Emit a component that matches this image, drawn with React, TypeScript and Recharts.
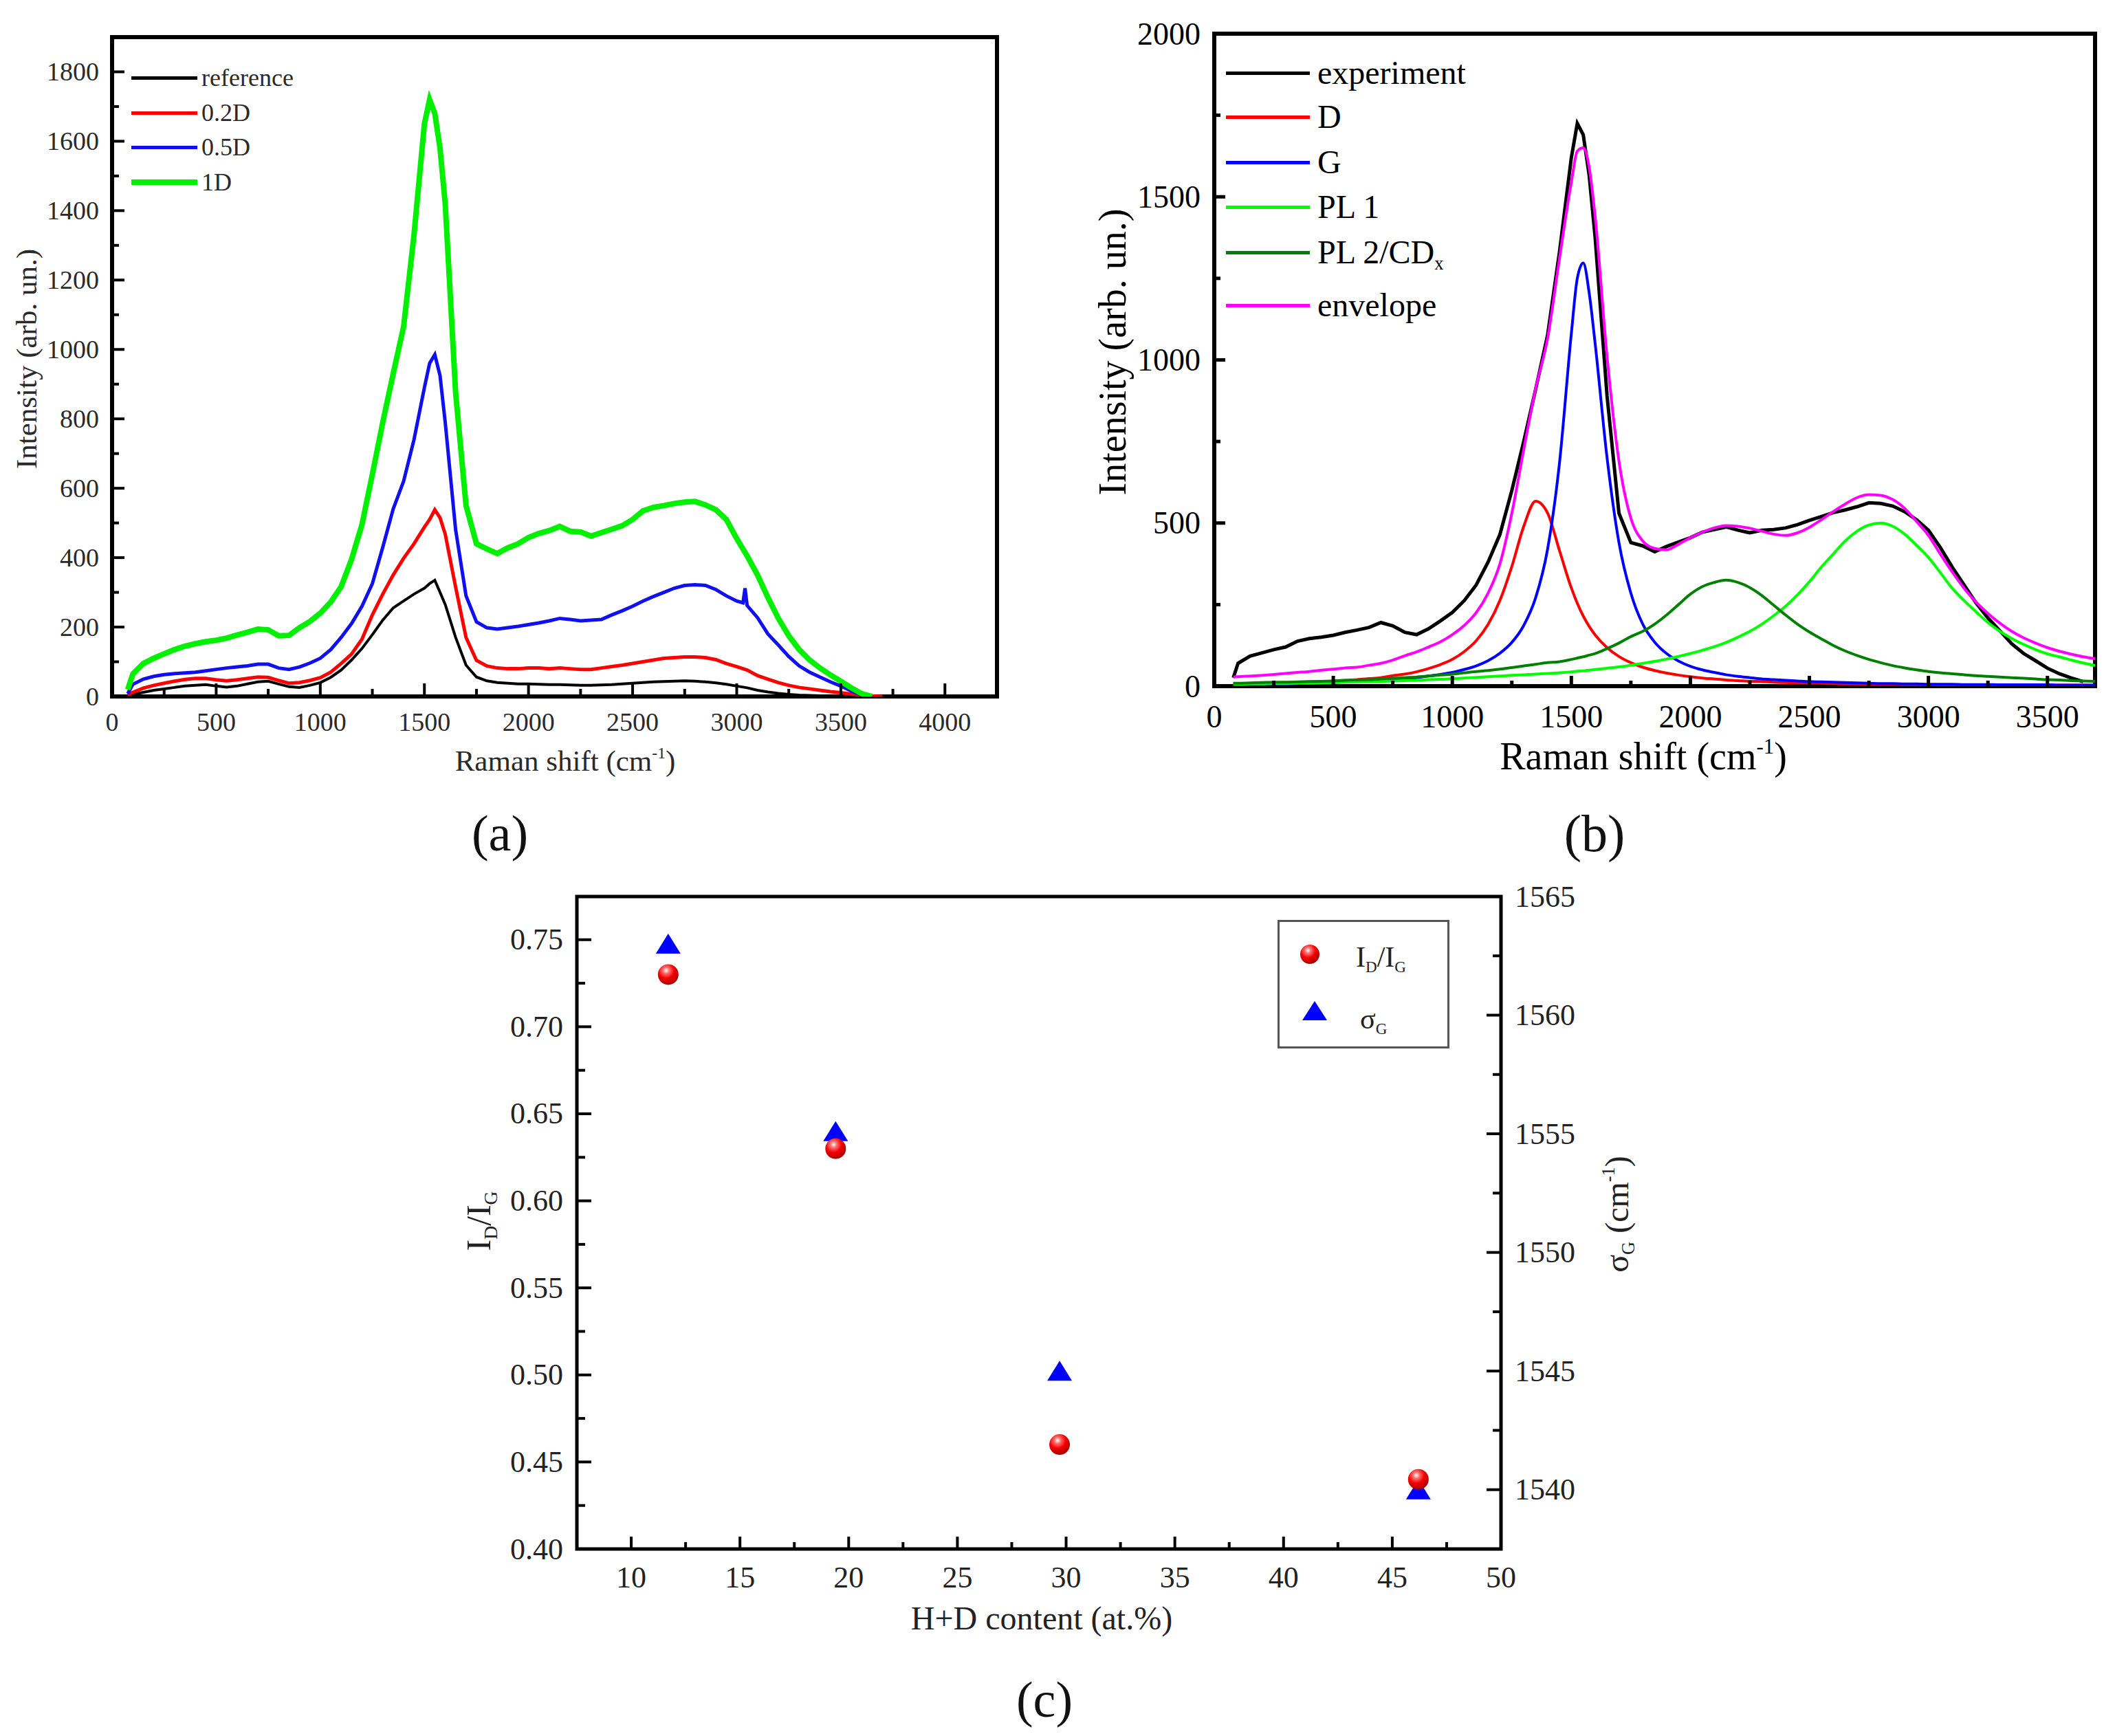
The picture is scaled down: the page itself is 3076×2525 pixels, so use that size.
import React from 'react';
import { LineChart, ComposedChart, Line, XAxis, YAxis, ReferenceArea } from 'recharts';

const FONT = "'Liberation Serif', 'DejaVu Serif', 'Times New Roman', serif";

// ---------- panel (a): Raman spectra ----------
const shiftA = [
  75, 100, 150, 200, 250, 300, 350, 400, 450, 500,
  550, 600, 650, 700, 750, 800, 850, 900, 950, 1000,
  1050, 1100, 1150, 1200, 1250, 1300, 1350, 1400, 1450, 1500,
  1525, 1550, 1575, 1600, 1650, 1700, 1750, 1800, 1850, 1900,
  1950, 2000, 2050, 2100, 2150, 2200, 2250, 2300, 2350, 2400,
  2450, 2500, 2550, 2600, 2650, 2700, 2750, 2800, 2850, 2900,
  2950, 3000, 3030, 3040, 3050, 3100, 3150, 3200, 3250, 3300,
  3350, 3400, 3450, 3500, 3550, 3600, 3650, 3700,
];
const refA = [
  2, 6, 12, 18, 22, 26, 30, 32, 34, 30,
  27, 30, 36, 42, 44, 36, 28, 26, 32, 40,
  55, 76, 105, 138, 178, 220, 255, 275, 295, 312,
  325, 335, 300, 265, 170, 90, 56, 45, 40, 38,
  36, 36, 35, 34, 34, 33, 32, 32, 33, 34,
  36, 38, 40, 42, 43, 44, 45, 44, 42, 39,
  35, 30, 27, 26, 25, 18, 13, 9, 6, 4,
  3, 2, 1, 0, null, null, null, null,
];
const d02A = [
  5, 12, 24, 32, 38, 44, 49, 52, 52, 48,
  45, 48, 52, 56, 55, 46, 38, 40, 46, 54,
  70, 95, 122, 165, 235, 295, 350, 398, 440, 488,
  510, 538, 515, 468, 315, 170, 104, 88, 82, 80,
  80, 82, 82, 80, 82, 80, 78, 78, 82, 86,
  90, 95, 100, 105, 110, 112, 114, 114, 112, 106,
  95, 86, 80, 78, 76, 60, 50, 40, 32, 26,
  22, 18, 14, 11, 7, 4, 1, 0,
];
const d05A = [
  8, 35, 50, 58, 63, 66, 68, 70, 74, 78,
  82, 85, 88, 93, 93, 82, 78, 85, 96, 110,
  135, 170, 210, 260, 325, 430, 540, 620, 740, 890,
  960, 985, 925, 790, 480, 290, 215, 198, 194, 198,
  202, 207, 212, 218, 225, 222, 218, 220, 222, 235,
  247, 260, 275, 288, 300, 312, 320, 322, 320, 308,
  290, 275, 270, 312, 262, 227, 180, 148, 115, 88,
  70, 56, 42, 30, 16, 4, null, null,
];
const d1A = [
  20, 65, 95, 110, 123, 135, 145, 152, 158, 162,
  168, 177, 185, 194, 192, 175, 176, 198, 216, 240,
  272, 316, 395, 495, 640, 790, 930, 1065, 1330, 1650,
  1720, 1680, 1580, 1420, 875, 550, 440, 425, 412, 428,
  440, 458, 470, 478, 490, 476, 474, 462, 472, 482,
  492, 510, 535, 545, 550, 556, 560, 562, 552, 538,
  510, 455, 425, 415, 405, 350, 285, 225, 175, 135,
  105, 82, 62, 44, 25, 8, 0, null,
];
const ticksAX = [0, 250, 500, 750, 1000, 1250, 1500, 1750, 2000, 2250, 2500, 2750, 3000, 3250, 3500, 3750, 4000];
const ticksAY = [0, 100, 200, 300, 400, 500, 600, 700, 800, 900, 1000, 1100, 1200, 1300, 1400, 1500, 1600, 1700, 1800];
const legendA = ['reference', '0.2D', '0.5D', '1D'];

// ---------- panel (b): fit of the 1D spectrum ----------
const shiftB = [
  80, 100, 150, 200, 250, 300, 350, 400, 450, 500,
  550, 600, 650, 700, 750, 800, 850, 900, 950, 1000,
  1050, 1100, 1150, 1200, 1250, 1300, 1350, 1400, 1450, 1500,
  1525, 1550, 1575, 1600, 1650, 1700, 1750, 1800, 1850, 1900,
  1950, 2000, 2050, 2100, 2150, 2200, 2250, 2300, 2350, 2400,
  2450, 2500, 2550, 2600, 2650, 2700, 2750, 2800, 2850, 2900,
  2950, 3000, 3050, 3100, 3150, 3200, 3250, 3300, 3350, 3400,
  3450, 3500, 3550, 3600, 3650, 3700,
];
const expB = [
  26, 70, 92, 102, 112, 120, 138, 146, 150, 156,
  165, 172, 180, 195, 185, 165, 158, 176, 200, 226,
  262, 310, 380, 465, 600, 750, 910, 1075, 1330, 1620,
  1725, 1690, 1565, 1375, 890, 530, 440, 430, 412, 428,
  442, 455, 472, 480, 488, 478, 470, 478, 480, 485,
  495, 508, 520, 532, 540, 550, 562, 560, 552, 535,
  510, 478, 425, 365, 310, 255, 209, 170, 130, 100,
  78, 55, 38, 25, 14, null,
];
const dB = [
  8, 8, 8, 9, 10, 11, 12, 13, 14, 16,
  18, 20, 23, 26, 32, 37, 44, 54, 66, 82,
  106, 139, 189, 263, 367, 490, 567, 531, 416, 301,
  254, 215, 183, 157, 118, 91, 72, 58, 48, 40,
  34, 29, 25, 22, 19, 17, 15, 14, 12, 11,
  10, 10, 9, 8, 7, 7, 6, 6, 6, 5,
  5, 5, 4, 4, 4, 4, 4, 3, 3, 3,
  3, 3, 3, 3, 3, 2,
];
const gB = [
  5, 5, 6, 6, 7, 7, 8, 9, 10, 11,
  13, 14, 16, 18, 20, 23, 26, 31, 36, 42,
  51, 62, 78, 101, 134, 186, 271, 419, 683, 1081,
  1250, 1297, 1205, 1050, 700, 440, 285, 190, 135, 100,
  77, 61, 50, 42, 35, 30, 26, 22, 20, 18,
  16, 14, 13, 12, 11, 10, 9, 8, 8, 7,
  7, 6, 6, 6, 5, 5, 5, 4, 4, 4,
  4, 4, 3, 3, 3, 3,
];
const pl1B = [
  6, 6, 7, 7, 8, 8, 9, 9, 10, 11,
  12, 13, 14, 15, 16, 17, 18, 20, 21, 23,
  25, 27, 29, 31, 33, 35, 37, 39, 41, 44,
  46, 47, 49, 51, 55, 59, 64, 70, 76, 83,
  91, 100, 110, 121, 134, 150, 168, 190, 216, 245,
  280, 320, 365, 405, 445, 475, 494, 500, 490, 466,
  432, 395, 348, 300, 262, 228, 195, 168, 146, 128,
  112, 99, 90, 80, 71, 63,
];
const pl2B = [
  9, 9, 10, 11, 12, 12, 13, 14, 15, 16,
  18, 19, 20, 22, 24, 26, 28, 31, 34, 37,
  41, 45, 48, 52, 57, 62, 67, 72, 75, 82,
  86, 90, 95, 100, 115, 132, 152, 168, 190, 218,
  250, 282, 305, 318, 325, 318, 302, 278, 248, 218,
  190, 166, 145, 125, 108, 94, 82, 72, 63, 56,
  50, 45, 41, 38, 35, 32, 30, 28, 26, 24,
  22, 20, 19, 17, 16, 15,
];
const envB = [
  28, 29, 31, 33, 36, 39, 42, 45, 49, 52,
  56, 58, 64, 70, 80, 93, 105, 120, 136, 158,
  186, 225, 285, 375, 530, 725, 912, 1065, 1310, 1545,
  1640, 1650, 1590, 1440, 1010, 690, 515, 445, 422, 418,
  435, 455, 472, 485, 492, 490, 484, 475, 466, 462,
  470, 487, 510, 535, 558, 578, 587, 585, 572, 545,
  505, 462, 405, 350, 300, 258, 223, 193, 168, 148,
  132, 118, 107, 98, 90, 84,
];
const ticksBX = [0, 250, 500, 750, 1000, 1250, 1500, 1750, 2000, 2250, 2500, 2750, 3000, 3250, 3500];
const ticksBY = [0, 250, 500, 750, 1000, 1250, 1500, 1750, 2000];

// ---------- panel (c): ID/IG and G position vs H+D content ----------
const hdContent = [11.7, 19.4, 29.7, 46.2];
const idIg = [0.73, 0.63, 0.46, 0.44];
const sigmaG = [1563.0, 1555.1, 1545.0, 1540.0];
const ticksCX = [10, 12.5, 15, 17.5, 20, 22.5, 25, 27.5, 30, 32.5, 35, 37.5, 40, 42.5, 45, 47.5, 50];
const ticksCL = [0.4, 0.425, 0.45, 0.475, 0.5, 0.525, 0.55, 0.575, 0.6, 0.625, 0.65, 0.675, 0.7, 0.725, 0.75];
const ticksCR = [1540, 1542.5, 1545, 1547.5, 1550, 1552.5, 1555, 1557.5, 1560, 1562.5, 1565];

const tableA = shiftA.map((x, i) => ({ x, ref: refA[i], d02: d02A[i], d05: d05A[i], d1: d1A[i] }));
const tableB = shiftB.map((x, i) => ({
  x, exp: expB[i], d: dB[i], g: gB[i], pl1: pl1B[i], pl2: pl2B[i], env: envB[i],
}));
const tableC = hdContent.map((hd, i) => ({ hd, ratio: idIg[i], sigma: sigmaG[i] }));

// inward tick marks, labels outside
interface TickStyle {
  side: 'left' | 'right' | 'bottom';
  step: number;
  major: number;
  minor: number;
  gap: number;
  size: number;
  digits: number;
  color: string;
  weight: number;
}

const makeTick = (s: TickStyle) => (props: any) => {
  const { x, y, payload } = props;
  const v = Number(payload.value);
  const isMajor = Math.abs(Math.round(v / s.step) * s.step - v) < 1e-6;
  const len = isMajor ? s.major : s.minor;
  const text = isMajor ? v.toFixed(s.digits) : null;
  const txt = { style: { fontFamily: FONT, fontSize: s.size }, fill: s.color };
  if (s.side === 'bottom') {
    return (
      <g>
        <line x1={x} x2={x} y1={y} y2={y - len} stroke="#000" strokeWidth={s.weight} />
        {text && (
          <text x={x} y={y + s.gap} textAnchor="middle" dominantBaseline="central" {...txt}>{text}</text>
        )}
      </g>
    );
  }
  if (s.side === 'left') {
    return (
      <g>
        <line x1={x} x2={x + len} y1={y} y2={y} stroke="#000" strokeWidth={s.weight} />
        {text && (
          <text x={x - s.gap} y={y} textAnchor="end" dominantBaseline="central" {...txt}>{text}</text>
        )}
      </g>
    );
  }
  return (
    <g>
      <line x1={x} x2={x - len} y1={y} y2={y} stroke="#000" strokeWidth={s.weight} />
      {text && (
        <text x={x + s.gap} y={y} textAnchor="start" dominantBaseline="central" {...txt}>{text}</text>
      )}
    </g>
  );
};

// text overlays
const Txt = ({ x, y, size, rot, left, color = '#111', children }: any) => (
  <div
    style={{
      position: 'absolute',
      left: x,
      top: y,
      transform: `translate(${left ? '0' : '-50%'}, -50%)${rot ? ' rotate(-90deg)' : ''}`,
      fontFamily: FONT,
      fontSize: size,
      lineHeight: 1,
      whiteSpace: 'nowrap',
      color,
    }}
  >
    {children}
  </div>
);

const Sup = ({ children }: any) => (
  <span style={{ fontSize: '0.55em', position: 'relative', top: '-0.75em' }}>{children}</span>
);
const Sub = ({ children }: any) => (
  <span style={{ fontSize: '0.55em', position: 'relative', top: '0.35em' }}>{children}</span>
);

const LegendLine = ({ x1, x2, y, color, w }: any) => (
  <div style={{ position: 'absolute', left: x1, top: y - w / 2, width: x2 - x1, height: w, background: color }} />
);

const Sphere = (props: any) => {
  const { cx, cy, index } = props;
  if (cx == null || cy == null) return null;
  const id = `sph-${index}`;
  return (
    <g key={id}>
      <defs>
        <radialGradient id={id} cx="0.4" cy="0.3" r="0.7">
          <stop offset="0" stopColor="#ffffff" />
          <stop offset="0.22" stopColor="#ff7070" />
          <stop offset="0.55" stopColor="#f40000" />
          <stop offset="1" stopColor="#a80000" />
        </radialGradient>
      </defs>
      <circle cx={cx} cy={cy} r={15} fill={`url(#${id})`} />
    </g>
  );
};

const Tri = (props: any) => {
  const { cx, cy, index } = props;
  if (cx == null || cy == null) return null;
  return (
    <polygon
      key={`tri-${index}`}
      points={`${cx},${cy - 15} ${cx - 18},${cy + 14} ${cx + 18},${cy + 14}`}
      fill="#0000ff"
    />
  );
};

const PanelA = () => (
  <div style={{ position: 'absolute', left: 0, top: 0 }}>
    <LineChart width={1480} height={1150} data={tableA} margin={{ top: 54, right: 30, bottom: 0, left: 0 }}>
      <XAxis
        dataKey="x"
        type="number"
        domain={[0, 4250]}
        allowDataOverflow
        ticks={ticksAX}
        interval={0}
        height={137}
        axisLine={false}
        tickLine={false}
        tickSize={0}
        tickMargin={0}
        tick={makeTick({ side: 'bottom', step: 500, major: 19, minor: 11, gap: 37, size: 38, digits: 0, color: '#2a2a2a', weight: 4 })}
      />
      <YAxis
        type="number"
        domain={[0, 1900]}
        allowDataOverflow
        ticks={ticksAY}
        interval={0}
        width={163}
        axisLine={false}
        tickLine={false}
        tickSize={0}
        tickMargin={0}
        tick={makeTick({ side: 'left', step: 200, major: 18, minor: 10, gap: 19, size: 38, digits: 0, color: '#2a2a2a', weight: 4 })}
      />
      <Line dataKey="ref" stroke="#000000" strokeWidth={4} dot={false} type="linear" isAnimationActive={false} />
      <Line dataKey="d02" stroke="#ff0000" strokeWidth={5} dot={false} type="linear" isAnimationActive={false} />
      <Line dataKey="d05" stroke="#1010ee" strokeWidth={5} dot={false} type="linear" isAnimationActive={false} />
      <Line dataKey="d1" stroke="#00f000" strokeWidth={8} dot={false} type="linear" isAnimationActive={false} />
      <ReferenceArea x1={0} x2={4250} y1={0} y2={1900} fill="none" stroke="#000" strokeWidth={6} ifOverflow="visible" />
    </LineChart>
  </div>
);

const PanelB = () => (
  <div style={{ position: 'absolute', left: 1540, top: 0 }}>
    <LineChart width={1536} height={1150} data={tableB} margin={{ top: 49, right: 29, bottom: 0, left: 0 }}>
      <XAxis
        dataKey="x"
        type="number"
        domain={[0, 3700]}
        allowDataOverflow
        ticks={ticksBX}
        interval={0}
        height={152}
        axisLine={false}
        tickLine={false}
        tickSize={0}
        tickMargin={0}
        tick={makeTick({ side: 'bottom', step: 500, major: 15, minor: 8, gap: 44, size: 46, digits: 0, color: '#000', weight: 5 })}
      />
      <YAxis
        type="number"
        domain={[0, 2000]}
        allowDataOverflow
        ticks={ticksBY}
        interval={0}
        width={226}
        axisLine={false}
        tickLine={false}
        tickSize={0}
        tickMargin={0}
        tick={makeTick({ side: 'left', step: 500, major: 16, minor: 9, gap: 20, size: 46, digits: 0, color: '#000', weight: 5 })}
      />
      <Line dataKey="exp" stroke="#000000" strokeWidth={5} dot={false} type="linear" isAnimationActive={false} />
      <Line dataKey="d" stroke="#ff0000" strokeWidth={4} dot={false} type="monotone" isAnimationActive={false} />
      <Line dataKey="g" stroke="#0000ff" strokeWidth={4} dot={false} type="monotone" isAnimationActive={false} />
      <Line dataKey="pl1" stroke="#00ff00" strokeWidth={4} dot={false} type="monotone" isAnimationActive={false} />
      <Line dataKey="pl2" stroke="#008000" strokeWidth={4} dot={false} type="monotone" isAnimationActive={false} />
      <Line dataKey="env" stroke="#ff00ff" strokeWidth={4} dot={false} type="monotone" isAnimationActive={false} />
      <ReferenceArea x1={0} x2={3700} y1={0} y2={2000} fill="none" stroke="#000" strokeWidth={6} ifOverflow="visible" />
    </LineChart>
  </div>
);

const PanelC = () => (
  <div style={{ position: 'absolute', left: 700, top: 1250 }}>
    <ComposedChart width={1700} height={1150} data={tableC} margin={{ top: 54, right: 0, bottom: 0, left: 0 }}>
      <XAxis
        dataKey="hd"
        type="number"
        domain={[7.5, 50]}
        allowDataOverflow
        ticks={ticksCX}
        interval={0}
        height={147}
        axisLine={false}
        tickLine={false}
        tickSize={0}
        tickMargin={0}
        tick={makeTick({ side: 'bottom', step: 5, major: 18, minor: 10, gap: 41, size: 44, digits: 0, color: '#222', weight: 4 })}
      />
      <YAxis
        yAxisId="left"
        type="number"
        domain={[0.4, 0.7748]}
        allowDataOverflow
        ticks={ticksCL}
        interval={0}
        width={139}
        axisLine={false}
        tickLine={false}
        tickSize={0}
        tickMargin={0}
        tick={makeTick({ side: 'left', step: 0.05, major: 21, minor: 12, gap: 20, size: 44, digits: 2, color: '#222', weight: 4 })}
      />
      <YAxis
        yAxisId="right"
        orientation="right"
        type="number"
        domain={[1537.5, 1565]}
        allowDataOverflow
        ticks={ticksCR}
        interval={0}
        width={217}
        axisLine={false}
        tickLine={false}
        tickSize={0}
        tickMargin={0}
        tick={makeTick({ side: 'right', step: 5, major: 21, minor: 12, gap: 20, size: 44, digits: 0, color: '#222', weight: 4 })}
      />
      <Line yAxisId="right" dataKey="sigma" stroke="none" dot={Tri} activeDot={false} isAnimationActive={false} />
      <Line yAxisId="left" dataKey="ratio" stroke="none" dot={Sphere} activeDot={false} isAnimationActive={false} />
      <ReferenceArea yAxisId="left" x1={7.5} x2={50} y1={0.4} y2={0.7748} fill="none" stroke="#000" strokeWidth={5} ifOverflow="visible" />
    </ComposedChart>
  </div>
);

const legendColorsA = ['#000000', '#ff0000', '#1010ee', '#00f000'];
const legendRowsA = [113, 164, 214, 265];
const legendColorsB = ['#000000', '#ff0000', '#0000ff', '#00ff00', '#008000', '#ff00ff'];
const legendRowsB = [106, 170, 236, 301, 367, 444];

export default function App() {
  return (
    <div style={{ position: 'absolute', left: 0, top: 0, width: 3076, height: 2525, background: '#fff', overflow: 'hidden' }}>
      <PanelA />
      <PanelB />
      <PanelC />

      {/* panel (a) texts */}
      {legendA.map((name, i) => (
        <React.Fragment key={name}>
          <LegendLine x1={191} x2={287} y={legendRowsA[i]} color={legendColorsA[i]} w={i === 3 ? 8 : 5} />
          <Txt x={293} y={legendRowsA[i]} size={36} left color="#2a2a2a">{name}</Txt>
        </React.Fragment>
      ))}
      <Txt x={38} y={522} size={43} rot color="#2a2a2a">Intensity (arb. un.)</Txt>
      <Txt x={822} y={1106} size={43} color="#2a2a2a">Raman shift (cm<Sup>-1</Sup>)</Txt>
      <Txt x={727} y={1212} size={74}>(a)</Txt>

      {/* panel (b) texts */}
      {['experiment', 'D', 'G', 'PL 1', null, 'envelope'].map((name, i) => (
        <React.Fragment key={i}>
          <LegendLine x1={1783} x2={1905} y={legendRowsB[i]} color={legendColorsB[i]} w={5} />
          <Txt x={1916} y={legendRowsB[i]} size={48} left color="#000">
            {name ?? <>PL 2/CD<Sub>x</Sub></>}
          </Txt>
        </React.Fragment>
      ))}
      <Txt x={1618} y={512} size={56} rot color="#000">Intensity (arb. un.)</Txt>
      <Txt x={2390} y={1100} size={56} color="#000">Raman shift (cm<Sup>-1</Sup>)</Txt>
      <Txt x={2319} y={1212} size={76}>(b)</Txt>

      {/* panel (c) texts */}
      <div
        style={{
          position: 'absolute', left: 1858, top: 1338, width: 250, height: 187,
          border: '3px solid #555', boxSizing: 'border-box', background: '#fff',
        }}
      />
      <svg style={{ position: 'absolute', left: 1880, top: 1360 }} width={60} height={140}>
        <defs>
          <radialGradient id="legSph" cx="0.4" cy="0.3" r="0.7">
            <stop offset="0" stopColor="#ffffff" />
            <stop offset="0.22" stopColor="#ff7070" />
            <stop offset="0.55" stopColor="#f40000" />
            <stop offset="1" stopColor="#a80000" />
          </radialGradient>
        </defs>
        <circle cx={25} cy={28} r={14} fill="url(#legSph)" />
        <polygon points="32,96 14,124 50,124" fill="#0000ff" />
      </svg>
      <Txt x={1972} y={1392} size={42} left color="#222">I<Sub>D</Sub>/I<Sub>G</Sub></Txt>
      <Txt x={1978} y={1482} size={42} left color="#222">σ<Sub>G</Sub></Txt>
      <Txt x={696} y={1776} size={50} rot color="#222">I<Sub>D</Sub>/I<Sub>G</Sub></Txt>
      <Txt x={2352} y={1766} size={48} rot color="#222">σ<Sub>G</Sub> (cm<Sup>-1</Sup>)</Txt>
      <Txt x={1515} y={2354} size={48} color="#222">H+D content (at.%)</Txt>
      <Txt x={1519} y={2472} size={74}>(c)</Txt>
    </div>
  );
}
